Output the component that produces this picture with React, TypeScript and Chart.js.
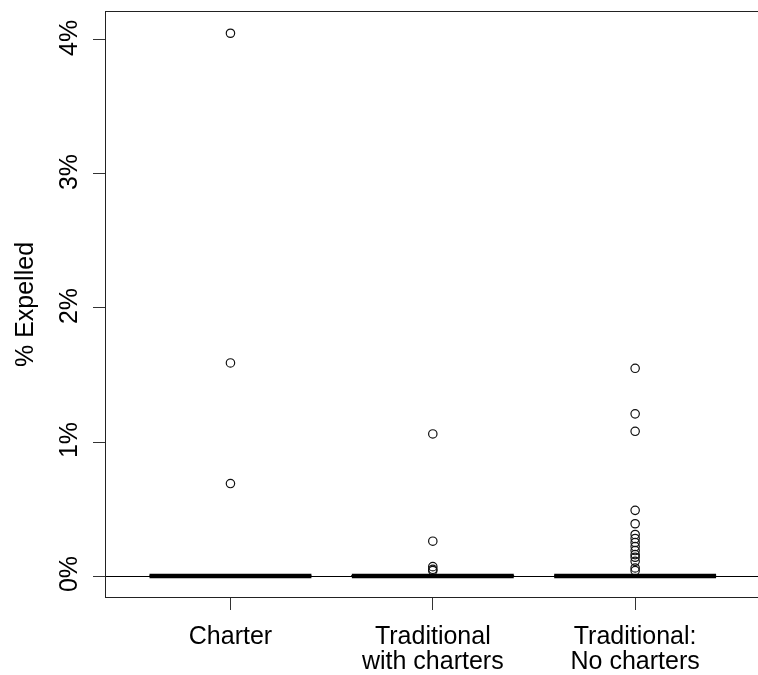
import React, { useEffect, useRef } from "react";
import { Chart, registerables } from "chart.js";

Chart.register(...registerables);

// ---------------- data ----------------
const groupLabels: string[][] = [
  ["Charter"],
  ["Traditional", "with charters"],
  ["Traditional:", "No charters"],
];
const groupPositions = [1, 2, 3];

// box statistics (% expelled)
const lowerWhisker = [0, 0, 0];
const q1 = [0, 0, 0];
const median = [0, 0, 0];
const q3 = [0, 0.004, 0];
const upperWhisker = [0, 0.01, 0];

// outliers per group (% expelled)
const outliersCharter = [4.05, 1.59, 0.69];
const outliersTradWith = [1.06, 0.26, 0.07, 0.05, 0.04];
const outliersTradNo = [
  1.55, 1.21, 1.08, 0.49, 0.39, 0.31, 0.28, 0.25, 0.22, 0.19, 0.16, 0.14, 0.11,
  0.06, 0.04,
];
const outliers = [outliersCharter, outliersTradWith, outliersTradNo];

const yTicks = [0, 1, 2, 3, 4];
const yTickLabels = ["0%", "1%", "2%", "3%", "4%"];
const yTitle = "% Expelled";

// axis limits
const yMin = -0.164;
const yMax = 4.216;
const xMin = 0.38;
const xMax = 3.62;

// ---------------- style ----------------
const BOX_HALF = 0.4;
const STAPLE_HALF = 0.2;
const FONT = '"Liberation Sans", Arial, sans-serif';
const FONT_SIZE = 25;
const INK = "#000";

function lineDs(points: { x: number; y: number }[], width: number, dash: number[] = []) {
  return {
    type: "scatter" as const,
    data: points,
    showLine: true,
    borderColor: INK,
    borderWidth: width,
    borderDash: dash,
    borderCapStyle: "butt" as const,
    pointRadius: 0,
    pointHoverRadius: 0,
    fill: false,
    tension: 0,
  };
}

const framePlugin = {
  id: "rframe",
  afterDraw(chart: any) {
    const { ctx, chartArea, scales } = chart;
    const { left, top, right, bottom } = chartArea;
    const y = scales.y;
    ctx.save();
    ctx.strokeStyle = "#222";
    ctx.lineWidth = 1;
    ctx.strokeRect(left + 0.5, top + 0.5, right - left - 1, bottom - top - 1);
    ctx.font = `${FONT_SIZE}px ${FONT}`;
    ctx.fillStyle = INK;
    ctx.textAlign = "center";
    ctx.textBaseline = "middle";
    yTicks.forEach((v, i) => {
      const py = y.getPixelForValue(v);
      ctx.save();
      ctx.translate(left - 35, py - 2);
      ctx.rotate(-Math.PI / 2);
      ctx.fillText(yTickLabels[i], 0, 0);
      ctx.restore();
    });
    ctx.restore();
  },
};

export default function App() {
  const canvasRef = useRef<HTMLCanvasElement | null>(null);

  useEffect(() => {
    const canvas = canvasRef.current;
    if (!canvas) return;

    const datasets: any[] = [];
    groupPositions.forEach((p, i) => {
      // box
      datasets.push(
        lineDs(
          [
            { x: p - BOX_HALF, y: q1[i] },
            { x: p + BOX_HALF, y: q1[i] },
            { x: p + BOX_HALF, y: q3[i] },
            { x: p - BOX_HALF, y: q3[i] },
            { x: p - BOX_HALF, y: q1[i] },
          ],
          1
        )
      );
      // whiskers
      datasets.push(lineDs([{ x: p, y: lowerWhisker[i] }, { x: p, y: q1[i] }], 1, [4, 4]));
      datasets.push(lineDs([{ x: p, y: q3[i] }, { x: p, y: upperWhisker[i] }], 1, [4, 4]));
      // staples
      datasets.push(
        lineDs([{ x: p - STAPLE_HALF, y: lowerWhisker[i] }, { x: p + STAPLE_HALF, y: lowerWhisker[i] }], 1)
      );
      datasets.push(
        lineDs([{ x: p - STAPLE_HALF, y: upperWhisker[i] }, { x: p + STAPLE_HALF, y: upperWhisker[i] }], 1.3)
      );
      // median
      datasets.push(lineDs([{ x: p - BOX_HALF, y: median[i] }, { x: p + BOX_HALF, y: median[i] }], 4.5));
      // outliers
      datasets.push({
        type: "scatter",
        data: outliers[i].map((v) => ({ x: p, y: v })),
        pointStyle: "circle",
        pointRadius: 4.2,
        pointHoverRadius: 4.2,
        pointBorderWidth: 1.2,
        pointBorderColor: "#111",
        pointBackgroundColor: "rgba(0,0,0,0)",
        showLine: false,
      });
    });

    const chart = new Chart(canvas, {
      type: "scatter",
      data: { datasets },
      options: {
        responsive: false,
        animation: false,
        devicePixelRatio: 1,
        events: [],
        layout: { padding: { left: 0, top: 11, right: 3, bottom: 0 } },
        plugins: {
          legend: { display: false },
          tooltip: { enabled: false },
        },
        scales: {
          x: {
            type: "linear",
            min: xMin,
            max: xMax,
            afterBuildTicks: (scale: any) => {
              scale.ticks = groupPositions.map((v) => ({ value: v }));
            },
            afterFit: (scale: any) => {
              scale.height = 77;
            },
            ticks: {
              autoSkip: false,
              maxRotation: 0,
              minRotation: 0,
              padding: 15,
              color: INK,
              font: { family: FONT, size: FONT_SIZE, lineHeight: 1.0 },
              callback: (value: any) => {
                const idx = groupPositions.indexOf(Number(value));
                return idx >= 0 ? groupLabels[idx] : "";
              },
            },
            grid: {
              drawOnChartArea: false,
              drawTicks: true,
              tickLength: 12,
              tickColor: "#333",
              tickWidth: 1,
            },
            border: { display: false },
          },
          y: {
            type: "linear",
            min: yMin,
            max: yMax,
            afterBuildTicks: (scale: any) => {
              scale.ticks = yTicks.map((v) => ({ value: v }));
            },
            afterFit: (scale: any) => {
              scale.width = 105;
            },
            ticks: { display: false },
            grid: {
              drawOnChartArea: true,
              drawTicks: true,
              tickLength: 12,
              tickColor: "#333",
              tickWidth: 1,
              lineWidth: 1,
              color: (ctx: any) =>
                ctx.tick && ctx.tick.value === 0 ? INK : "rgba(0,0,0,0)",
            },
            border: { display: false },
            title: {
              display: true,
              text: yTitle,
              color: INK,
              font: { family: FONT, size: FONT_SIZE, lineHeight: 1.2 },
              padding: { top: 11, bottom: 0 },
            },
          },
        },
      },
      plugins: [framePlugin],
    } as any);

    return () => chart.destroy();
  }, []);

  return (
    <div
      style={{
        position: "absolute",
        left: 0,
        top: 0,
        width: 758,
        height: 675,
        overflow: "hidden",
        background: "#fff",
      }}
    >
      <canvas ref={canvasRef} width={766} height={675} style={{ display: "block" }} />
    </div>
  );
}
